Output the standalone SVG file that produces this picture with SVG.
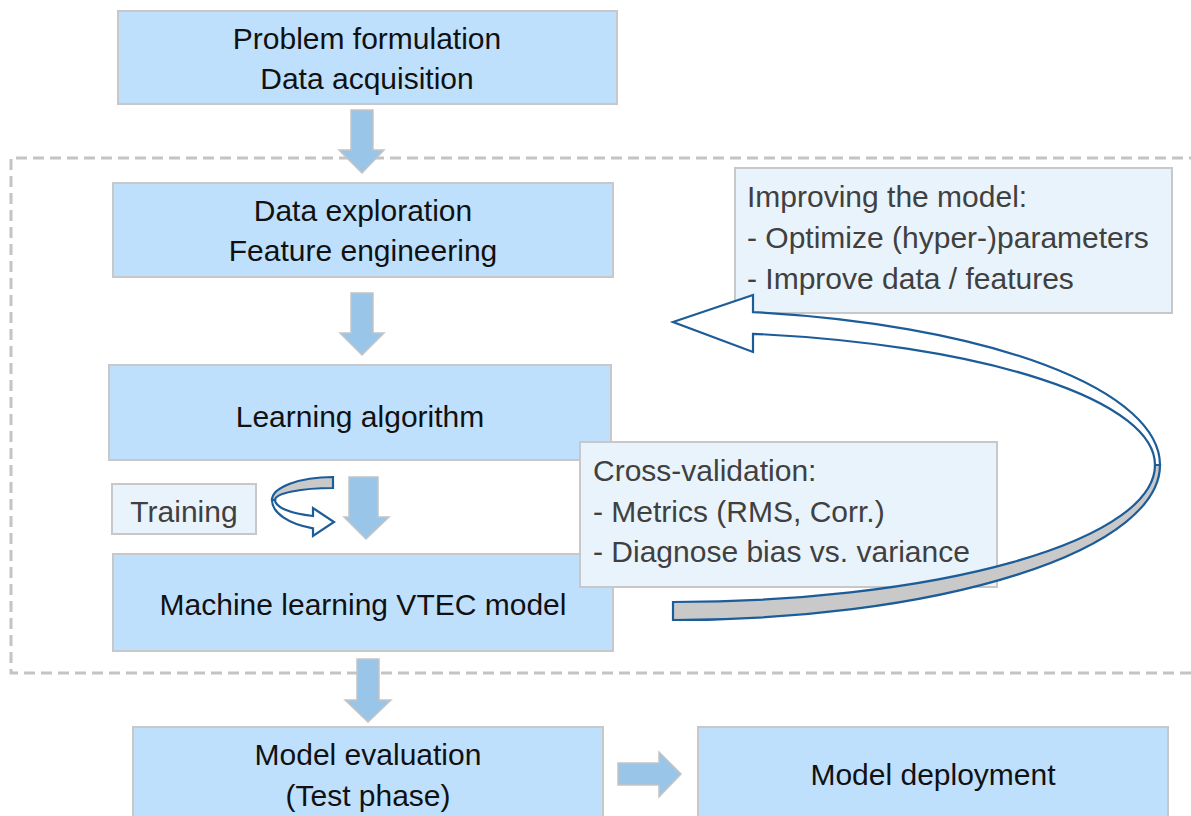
<svg xmlns="http://www.w3.org/2000/svg" width="1191" height="816" viewBox="0 0 1191 816">
  <defs>
    <style>
      .step { fill: #bfe0fd; stroke: #c8c8c8; stroke-width: 2; }
      .note { fill: #e9f3fb; stroke: #c8c8c8; stroke-width: 2; }
      .flow { fill: #99c5e9; stroke: #c4c4c4; stroke-width: 1.5; stroke-linejoin: miter; }
      .loop-front { fill: #ffffff; stroke: #1c5c98; stroke-width: 2.2; stroke-linejoin: miter; }
      .loop-back { fill: #c9c9c9; stroke: #1c5c98; stroke-width: 2.2; stroke-linejoin: miter; }
      .frame { fill: none; stroke: #c4c4c4; stroke-width: 3; stroke-dasharray: 11 6; }
      text { font-family: "Liberation Sans", Arial, sans-serif; font-size: 30px; }
      .label { fill: #111111; text-anchor: middle; }
      .note-text { fill: #404040; }
    </style>
  </defs>

  <rect width="1191" height="816" fill="#ffffff"/>

  <!-- dashed frame around the iterative modelling loop -->
  <path class="frame" d="M 1200 158 L 11 158 L 11 673 L 1200 673"/>

  <g id="problem">
    <rect class="step" x="118" y="11" width="499" height="93"/>
    <text class="label" x="367" y="49">Problem formulation</text>
    <text class="label" x="367" y="89">Data acquisition</text>
  </g>

  <g id="exploration">
    <rect class="step" x="113" y="183" width="500" height="94"/>
    <text class="label" x="363" y="221">Data exploration</text>
    <text class="label" x="363" y="261">Feature engineering</text>
  </g>

  <g id="learning">
    <rect class="step" x="109" y="365" width="502" height="95"/>
    <text class="label" x="360" y="427">Learning algorithm</text>
  </g>

  <g id="training">
    <rect class="note" x="112" y="484" width="144" height="50"/>
    <text class="note-text" x="184" y="522" text-anchor="middle">Training</text>
  </g>

  <g id="model">
    <rect class="step" x="113" y="554" width="500" height="97"/>
    <text class="label" x="363" y="615">Machine learning VTEC model</text>
  </g>

  <g id="evaluation">
    <rect class="step" x="133" y="727" width="470" height="100"/>
    <text class="label" x="368" y="765">Model evaluation</text>
    <text class="label" x="368" y="806">(Test phase)</text>
  </g>

  <g id="deployment">
    <rect class="step" x="698" y="727" width="470" height="100"/>
    <text class="label" x="933" y="785">Model deployment</text>
  </g>

  <g id="improving">
    <rect class="note" x="735" y="168" width="437" height="145"/>
    <text class="note-text" x="747" y="207">Improving the model:</text>
    <text class="note-text" x="747" y="248">- Optimize (hyper-)parameters</text>
    <text class="note-text" x="747" y="289">- Improve data / features</text>
  </g>

  <g id="crossvalidation">
    <rect class="note" x="580" y="442" width="417" height="145"/>
    <text class="note-text" x="593" y="481">Cross-validation:</text>
    <text class="note-text" x="593" y="522">- Metrics (RMS, Corr.)</text>
    <text class="note-text" x="593" y="562">- Diagnose bias vs. variance</text>
  </g>

  <g id="connectors">
    <!-- straight flow arrows -->
    <polygon class="flow" points="351,110 373,110 373,150 384,150 362,173 339,150 351,150"/>
    <polygon class="flow" points="351,293 373,293 373,333 384,333 362,355 340,333 351,333"/>
    <polygon class="flow" points="349,477 378,477 378,517 389,517 366,539 344,517 349,517"/>
    <polygon class="flow" points="357,659 379,659 379,700 391,700 368,722 345,700 357,700"/>
    <polygon class="flow" points="618,763 659,763 659,752 681,774 659,797 659,785 618,785"/>

    <!-- training loop arrow -->
    <path class="loop-back" d="M 333 477 A 61 23 0 0 0 272 500 L 275 500 A 58 12 0 0 1 333 488 Z"/>
    <path class="loop-front" d="M 272 500 A 61 30 0 0 0 313 528.3 L 313 536 L 334 522 L 313 508 L 313 516 A 58 17 0 0 1 275 500 Z"/>

    <!-- model improvement loop arrow -->
    <path class="loop-back" d="M 1160 465 A 487 155 0 0 1 673 620 L 673 602 A 482 137 0 0 0 1155 465 Z"/>
    <path class="loop-front" d="M 753 312.1 A 487 155 0 0 1 1160 465 L 1155 465 A 482 133 0 0 0 753 333.8 L 753 352 L 673 322 L 753 295 Z"/>
  </g>
</svg>
